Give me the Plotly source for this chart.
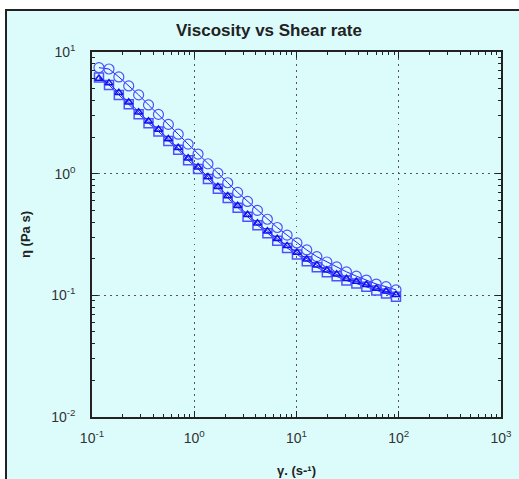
import plotly.graph_objects as go

# ---- data ----
shear_rate = [0.117, 0.1466, 0.183, 0.2286, 0.2858, 0.357, 0.4465, 0.558, 0.697, 0.871,
              1.089, 1.361, 1.702, 2.125, 2.656, 3.32, 4.15, 5.19, 6.48, 8.09,
              10.1, 12.6, 15.8, 19.8, 24.7, 30.8, 38.5, 48.2, 60.3, 75.2, 94.0]

eta_circle = [7.43, 7.25, 6.24, 5.26, 4.44, 3.67, 3.07, 2.54, 2.11, 1.75,
              1.45, 1.206, 1.011, 0.842, 0.701, 0.591, 0.499, 0.422, 0.361, 0.3125,
              0.2695, 0.236, 0.208, 0.188, 0.1713, 0.156, 0.1438, 0.1335, 0.1238, 0.1177, 0.1109]

eta_triangle = [6.05, 5.55, 4.62, 3.86, 3.20, 2.70, 2.31, 1.93, 1.63, 1.34,
                1.13, 0.94, 0.78, 0.655, 0.545, 0.46, 0.392, 0.337, 0.292, 0.255,
                0.225, 0.198, 0.177, 0.161, 0.149, 0.137, 0.130, 0.122, 0.114, 0.108, 0.101]

eta_square = [6.18, 5.36, 4.44, 3.72, 3.08, 2.60, 2.22, 1.86, 1.571, 1.288,
              1.091, 0.903, 0.752, 0.631, 0.525, 0.443, 0.377, 0.3245, 0.2816, 0.2453,
              0.2162, 0.1905, 0.170, 0.1547, 0.1435, 0.1322, 0.125, 0.1174, 0.1095, 0.1035, 0.0972]

x_tick_vals = [0.1, 1, 10, 100, 1000]
x_tick_text = ["10<sup>-1</sup>", "10<sup>0</sup>", "10<sup>1</sup>", "10<sup>2</sup>", "10<sup>3</sup>"]
y_tick_vals = [0.01, 0.1, 1, 10]
y_tick_text = ["10<sup>-2</sup>", "10<sup>-1</sup>", "10<sup>0</sup>", "10<sup>1</sup>"]

title_text = "Viscosity vs Shear rate"
x_title = "γ. (s-¹)"
y_title = "η (Pa s)"

# ---- styling ----
LINE_BLUE = "#2020ff"
MARK_BLUE = "#5050ff"
FONT = "Liberation Sans, Arial, sans-serif"

def minor_vals(lo_exp, hi_exp):
    return [m * 10 ** e for e in range(lo_exp, hi_exp) for m in range(2, 10)]

fig = go.Figure()
fig.add_trace(go.Scatter(x=shear_rate, y=eta_circle, mode="lines+markers",
                         line=dict(color=LINE_BLUE, width=1),
                         marker=dict(symbol="circle-open", size=10, color=MARK_BLUE,
                                     line=dict(width=1.2, color=MARK_BLUE)),
                         showlegend=False))
fig.add_trace(go.Scatter(x=shear_rate, y=eta_square, mode="lines+markers",
                         line=dict(color=LINE_BLUE, width=1),
                         marker=dict(symbol="square-open", size=9, color=MARK_BLUE,
                                     line=dict(width=1.5, color=MARK_BLUE)),
                         showlegend=False))
fig.add_trace(go.Scatter(x=shear_rate, y=eta_triangle, mode="lines+markers",
                         line=dict(color=LINE_BLUE, width=1),
                         marker=dict(symbol="triangle-up-open", size=7, color="#1010ee",
                                     line=dict(width=1.5, color="#1010ee")),
                         showlegend=False))

axis_common = dict(type="log", showline=True, linecolor="#222222", linewidth=1.5,
                   ticks="inside", ticklen=6, tickwidth=1, tickcolor="#222222",
                   mirror="ticks", showgrid=True, gridcolor="#555555", griddash="1.5px,4.5px",
                   gridwidth=1.2, zeroline=False, automargin=False,
                   tickfont=dict(family=FONT, size=14, color="#333333"))

fig.update_layout(
    width=519, height=479,
    margin=dict(l=92, r=18, t=52, b=62, autoexpand=False),
    paper_bgcolor="white", plot_bgcolor="white",
    title=dict(text="<b>" + title_text + "</b>", x=269 / 519, xanchor="center",
               y=1 - 30 / 479, yanchor="middle",
               font=dict(family=FONT, size=17, color="#222222")),
    xaxis=dict(**axis_common, range=[-1, 3], tickmode="array",
               tickvals=x_tick_vals, ticktext=x_tick_text, ticklabelstandoff=7,
               minor=dict(ticks="inside", ticklen=3, tickcolor="#222222",
                          tickvals=minor_vals(-1, 3), showgrid=False),
               title=dict(text="<b>" + x_title + "</b>", standoff=21,
                          font=dict(family=FONT, size=13, color="#222222"))),
    yaxis=dict(**axis_common, range=[-2, 1], tickmode="array",
               tickvals=y_tick_vals, ticktext=y_tick_text, ticklabelstandoff=12,
               minor=dict(ticks="inside", ticklen=3, tickcolor="#222222",
                          tickvals=minor_vals(-2, 1), showgrid=False),
               title=dict(text="<b>" + y_title + "</b>", standoff=18,
                          font=dict(family=FONT, size=13, color="#222222"))),
    xaxis2=dict(type="log", range=[-1, 3], overlaying="x", anchor="y", side="bottom",
                tickmode="array", tickvals=x_tick_vals, showticklabels=False,
                ticks="outside", ticklen=6, tickcolor="#222222", showline=False,
                showgrid=False, zeroline=False, automargin=False,
                minor=dict(ticks="outside", ticklen=3, tickcolor="#222222",
                           tickvals=minor_vals(-1, 3), showgrid=False)),
    yaxis2=dict(type="log", range=[-2, 1], overlaying="y", anchor="x", side="left",
                tickmode="array", tickvals=y_tick_vals, showticklabels=False,
                ticks="outside", ticklen=6, tickcolor="#222222", showline=False,
                showgrid=False, zeroline=False, automargin=False,
                minor=dict(ticks="outside", ticklen=3, tickcolor="#222222",
                           tickvals=minor_vals(-2, 1), showgrid=False)),
    shapes=[dict(type="rect", xref="paper", yref="paper", layer="below",
                 x0=(6 - 92) / 409, x1=2.0, y0=-1.0, y1=(417 - 10) / 365,
                 fillcolor="#dcfcfc", line=dict(color="#222222", width=2))],
)

fig.write_html("out.html")
